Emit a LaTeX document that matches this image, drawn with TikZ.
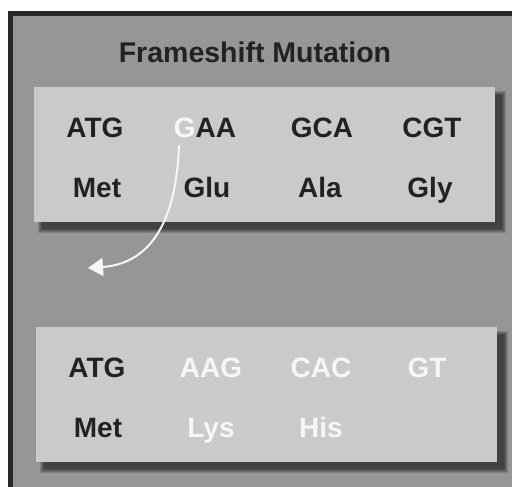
\documentclass[tikz,border=0pt]{standalone}
\usepackage{fontspec}
\setmainfont{Liberation Sans}
\usetikzlibrary{arrows.meta}
\definecolor{bgray}{RGB}{150,150,150}
\definecolor{frame}{RGB}{40,40,40}
\definecolor{boxfill}{RGB}{202,202,202}
\definecolor{txt}{RGB}{34,34,34}
\definecolor{wtxt}{RGB}{246,246,246}
\tikzset{
  codon/.style={anchor=base, text=txt, inner sep=0pt, font=\bfseries\fontsize{28}{34}\selectfont},
  mutated/.style={codon, text=wtxt},
  panel/.style={fill=boxfill, draw=none},
}
\newcommand{\shadowbox}[4]{%
  \foreach \e in {4,3,2,1,0}{%
    \fill[black, opacity=0.14] (#1+8-\e,#2+8-\e) rectangle (#3+7+\e,#4+7+\e);
  }%
}
\begin{document}
\begin{tikzpicture}[x=1pt,y=-1pt]
\useasboundingbox (0,0) rectangle (512,487);
\fill[white] (0,0) rectangle (512,487);
\fill[frame] (8,11) rectangle (512,487);
\fill[bgray] (13,16) rectangle (512,487);

\node[codon, font=\bfseries\fontsize{28.5}{34}\selectfont] (title) at (255,63) {Frameshift Mutation};

% top panel
\shadowbox{34}{87}{495}{222}
\fill[panel] (34,87) rectangle (495,222);
\node[codon] (c1) at (95,138) {ATG};
\node[codon] (c2) at (205,138) {\textcolor{wtxt}{G}AA};
\node[codon] (c3) at (322,138) {GCA};
\node[codon] (c4) at (432,138) {CGT};
\node[codon] (a1) at (97,197) {Met};
\node[codon] (a2) at (207,197) {Glu};
\node[codon] (a3) at (320,197) {Ala};
\node[codon] (a4) at (430,197) {Gly};

% bottom panel
\shadowbox{36}{327}{497}{462}
\fill[panel] (36,327) rectangle (497,462);
\node[codon] (d1) at (97,377) {ATG};
\node[mutated] (d2) at (211,377) {AAG};
\node[mutated] (d3) at (321,377) {CAC};
\node[mutated] (d4) at (427,377) {GT};
\node[codon] (b1) at (98,437) {Met};
\node[mutated] (b2) at (211,437) {Lys};
\node[mutated] (b3) at (321,437) {His};

% arrow
\coordinate (gstart) at (179,145);
\coordinate (aend) at (88,268);
\draw[wtxt, line width=2pt, -{Triangle[width=18pt,length=15pt]}]
  (gstart) .. controls (176,230) and (145,264) .. (aend);
\end{tikzpicture}
\end{document}
